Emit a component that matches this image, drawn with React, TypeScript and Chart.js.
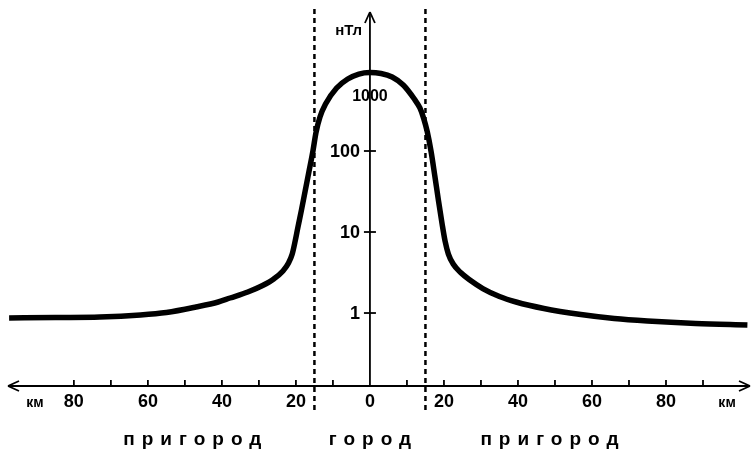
import React, { useEffect, useRef } from "react";
import { Chart, registerables } from "chart.js";

Chart.register(...registerables);

// distance from the city centre, km
const distanceKm = [
  -97.5, -85, -73, -62, -55, -47, -41, -37.8, -33, -29, -26, -23.5, -22, -21, -20.2,
  -19.5, -18.5, -17.5, -16.5, -15.4, -14.6, -13.5, -12, -9, -6, -3, 0, 3, 6, 9, 12,
  13.5, 14.5, 15.5, 16.5, 17.5, 18.5, 19.5, 20.3, 21.2, 22.5, 24.5, 27, 30.5, 35, 39.5,
  47, 57, 66, 75, 88, 102,
];
// field level, nT
const fieldNT = [
  0.868, 0.88, 0.892, 0.945, 1.014, 1.186, 1.367, 1.532, 1.816, 2.185, 2.63, 3.3, 4.14, 5.35, 7.74,
  11.2, 18.7, 32.1, 55, 100, 167, 263, 380, 599, 774, 892, 931, 905, 820, 653, 438,
  340, 255, 172, 100, 50.5, 24.8, 12.6, 7.74, 5.35, 4.03, 3.16, 2.555, 2.006, 1.598, 1.367,
  1.137, 0.958, 0.855, 0.796, 0.742, 0.711,
];

const yTickValues = [1, 10, 100];
const yTopLabel = 1000;
const xTickValues = [-80, -70, -60, -50, -40, -30, -20, -10, 10, 20, 30, 40, 50, 60, 70, 80, 90];
const xLabelValues = [-80, -60, -40, -20, 0, 20, 40, 60, 80];
const cityBounds = [-15, 15];
const zoneLabels = ["пригород", "город", "пригород"];
const zoneCenters = [-48, 0, 48.5];
const unitX = "км";
const unitXPositions = [-90.5, 96.5];
const unitY = "нТл";

const X_MIN = -97.8;
const X_MAX = 102.7;
const Y_MIN = 0.1256;
const Y_MAX = 5200;

const axesPlugin = {
  id: "sketchAxes",
  beforeDatasetsDraw(chart: any) {
    const { ctx, scales } = chart;
    const x = scales.x;
    const y = scales.y;
    const x0 = x.getPixelForValue(0);
    const yb = y.bottom;
    const line = (a: number, b: number, c: number, d: number) => {
      ctx.beginPath();
      ctx.moveTo(a, b);
      ctx.lineTo(c, d);
      ctx.stroke();
    };
    ctx.save();
    ctx.strokeStyle = "#000";
    ctx.fillStyle = "#000";
    ctx.lineCap = "butt";
    // dashed city boundaries
    ctx.setLineDash([5, 4]);
    ctx.lineWidth = 2.5;
    for (const b of cityBounds) {
      const px = x.getPixelForValue(b);
      line(px, 9, px, 414);
    }
    ctx.setLineDash([]);
    // x axis
    ctx.lineWidth = 2;
    line(x.left, yb, x.right, yb);
    ctx.lineWidth = 1.8;
    line(x.left, yb, x.left + 11, yb - 5);
    line(x.left, yb, x.left + 11, yb + 5);
    line(x.right, yb, x.right - 11, yb - 5);
    line(x.right, yb, x.right - 11, yb + 5);
    for (const t of xTickValues) {
      const px = x.getPixelForValue(t);
      line(px, yb, px, yb - 6);
    }
    // y axis
    line(x0, y.top, x0, yb);
    line(x0, y.top, x0 - 5, y.top + 11);
    line(x0, y.top, x0 + 5, y.top + 11);
    for (const t of yTickValues) {
      const py = y.getPixelForValue(t);
      line(x0 - 6, py, x0 + 6, py);
    }
    ctx.restore();
  },
  afterDatasetsDraw(chart: any) {
    const { ctx, scales } = chart;
    const x = scales.x;
    const y = scales.y;
    const x0 = x.getPixelForValue(0);
    const yb = y.bottom;
    ctx.save();
    ctx.fillStyle = "#000";
    ctx.textBaseline = "middle";
    ctx.font = "bold 18px 'Liberation Sans', Arial, sans-serif";
    ctx.textAlign = "right";
    for (const t of yTickValues) {
      ctx.fillText(String(t), x0 - 10, y.getPixelForValue(t) + 1);
    }
    ctx.textAlign = "center";
    ctx.font = "bold 16px 'Liberation Sans', Arial, sans-serif";
    ctx.fillText(String(yTopLabel), x0, y.getPixelForValue(yTopLabel) + 27);
    ctx.font = "bold 15px 'Liberation Sans', Arial, sans-serif";
    ctx.textAlign = "right";
    ctx.fillText(unitY, x0 - 8, 31);
    ctx.font = "bold 18px 'Liberation Sans', Arial, sans-serif";
    ctx.textAlign = "center";
    for (const t of xLabelValues) {
      ctx.fillText(String(Math.abs(t)), x.getPixelForValue(t), yb + 16);
    }
    ctx.font = "bold 14px 'Liberation Sans', Arial, sans-serif";
    for (const u of unitXPositions) {
      ctx.fillText(unitX, x.getPixelForValue(u), yb + 17);
    }
    ctx.font = "bold 19px 'Liberation Sans', Arial, sans-serif";
    (ctx as any).letterSpacing = "7px";
    zoneLabels.forEach((lbl, i) => {
      const w = ctx.measureText(lbl).width - 7;
      ctx.textAlign = "left";
      ctx.fillText(lbl, x.getPixelForValue(zoneCenters[i]) - w / 2, 440);
    });
    ctx.restore();
  },
};

export default function App() {
  const ref = useRef<HTMLCanvasElement | null>(null);
  useEffect(() => {
    document.body.style.margin = "0";
    const canvas = ref.current;
    if (!canvas) return;
    const chart = new Chart(canvas, {
      type: "line",
      data: {
        datasets: [
          {
            data: distanceKm.map((d, i) => ({ x: d, y: fieldNT[i] })),
            borderColor: "#000",
            borderWidth: 5.5,
            pointRadius: 0,
            cubicInterpolationMode: "monotone",
            fill: false,
            clip: false as any,
          },
        ],
      },
      options: {
        animation: false,
        responsive: true,
        maintainAspectRatio: false,
        devicePixelRatio: 1,
        layout: { padding: { left: 8, right: 1, top: 12, bottom: 68 } },
        plugins: { legend: { display: false }, tooltip: { enabled: false } },
        scales: {
          x: { type: "linear", min: X_MIN, max: X_MAX, display: false },
          y: { type: "logarithmic", min: Y_MIN, max: Y_MAX, display: false },
        },
      },
      plugins: [axesPlugin],
    });
    return () => chart.destroy();
  }, []);
  return (
    <div style={{ width: 751, height: 454, position: "relative", background: "#fff" }}>
      <canvas ref={ref} />
    </div>
  );
}
